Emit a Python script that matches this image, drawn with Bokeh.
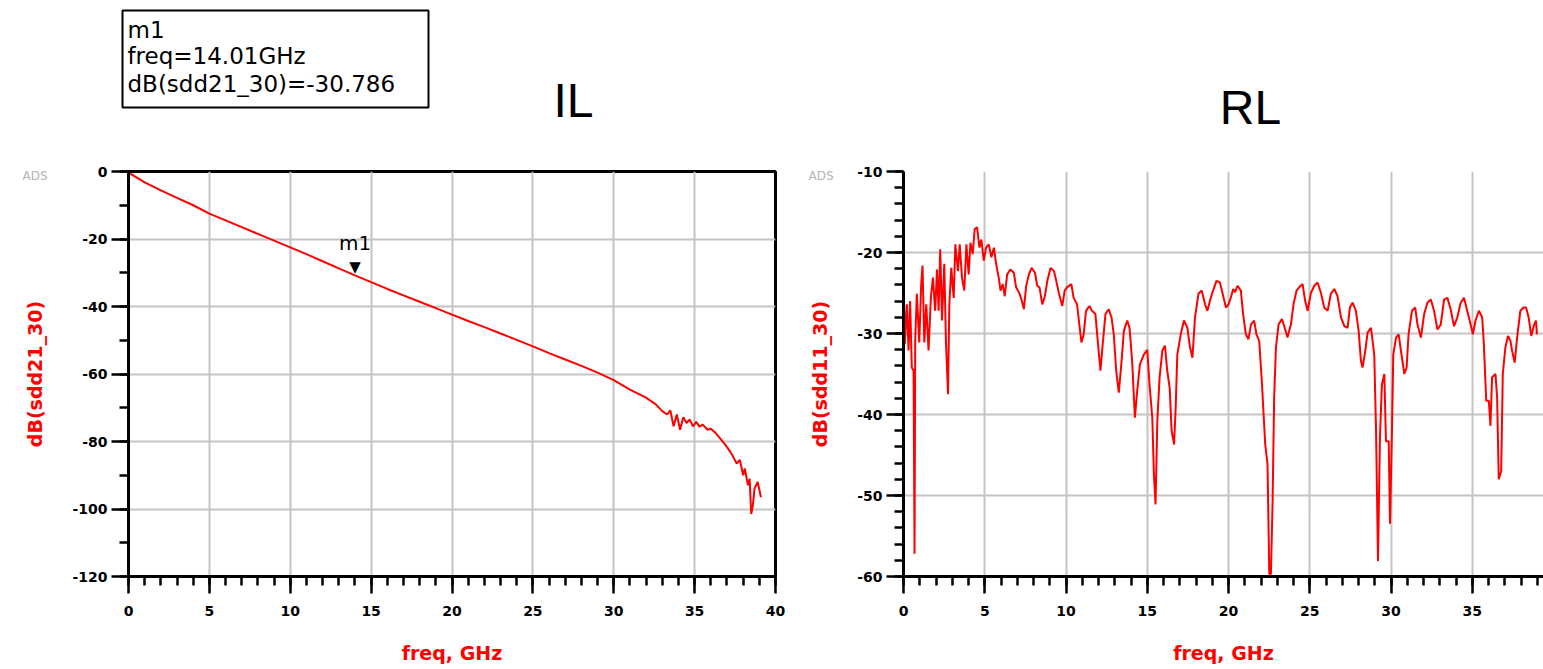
from bokeh.plotting import figure
from bokeh.layouts import row, column
from bokeh.models import Range1d, SingleIntervalTicker, FixedTicker, Grid, Title
from bokeh.embed import file_html
from bokeh.resources import INLINE
from bokeh.core.properties import value

# ---------------- data ----------------
il_freq = [0, 1, 2, 3, 4, 5, 6, 7, 8, 9, 10, 11, 12, 13, 14, 15, 16, 17, 18, 19, 20,
           21, 22, 23, 24, 25, 26, 27, 28, 29, 30, 31, 32, 32.6, 33.0, 33.3, 33.5, 33.7,
           33.9, 34.1, 34.3, 34.5, 34.7, 34.9, 35.1, 35.3, 35.5, 35.8, 36.0, 36.3, 36.6,
           36.9, 37.2, 37.4, 37.6, 37.8, 38.0, 38.1, 38.3, 38.4, 38.5, 38.6, 38.7, 38.9, 39.1]
il_db = [-0.3, -3.2, -5.6, -7.8, -10.0, -12.5, -14.5, -16.5, -18.5, -20.5, -22.5, -24.5,
         -26.6, -28.7, -30.8, -32.8, -34.8, -36.7, -38.6, -40.5, -42.4, -44.3, -46.1, -48.0,
         -49.9, -51.8, -53.8, -55.7, -57.6, -59.6, -61.8, -64.6, -67.0, -69.0, -71.0, -72.0,
         -70.8, -75.5, -72.0, -76.5, -72.8, -74.5, -73.5, -75.5, -74.2, -75.6, -75.0, -76.5,
         -76.2, -77.5, -79.2, -81.0, -83.0, -84.7, -86.5, -85.5, -90.0, -88.0, -93.0, -91.0,
         -101.5, -99.0, -94.0, -92.0, -96.5]

rl_freq = [0.00, 0.08, 0.21, 0.31, 0.41, 0.51, 0.62, 0.68, 0.72, 0.82, 0.97, 1.09, 1.17, 1.28,
           1.40, 1.54, 1.69, 1.81, 1.95, 2.06, 2.16, 2.26, 2.37, 2.51, 2.61, 2.74, 2.82, 2.94,
           3.09, 3.19, 3.35, 3.46, 3.60, 3.74, 3.87, 4.01, 4.12, 4.26, 4.38, 4.53, 4.67, 4.79,
           4.94, 5.08, 5.25, 5.41, 5.56, 5.70, 5.86, 5.97, 6.11, 6.23, 6.38, 6.58, 6.79, 6.93,
           7.10, 7.26, 7.41, 7.55, 7.72, 7.88, 8.09, 8.23, 8.37, 8.54, 8.70, 8.85, 9.05, 9.26,
           9.40, 9.57, 9.77, 9.92, 10.06, 10.33, 10.47, 10.68, 10.82, 10.95, 11.09, 11.23,
           11.44, 11.60, 11.81, 11.98, 12.12, 12.26, 12.43, 12.63, 12.80, 12.94, 13.09, 13.25,
           13.42, 13.56, 13.77, 13.91, 14.07, 14.24, 14.38, 14.55, 14.79, 15.00, 15.14, 15.31,
           15.41, 15.51, 15.62, 15.76, 15.93, 16.09, 16.23, 16.38, 16.50, 16.65, 16.75, 16.85,
           17.06, 17.26, 17.47, 17.63, 17.78, 17.94, 18.15, 18.35, 18.56, 18.70, 18.91, 19.05,
           19.26, 19.47, 19.63, 19.84, 20.00, 20.14, 20.29, 20.41, 20.55, 20.76, 20.90, 21.07,
           21.23, 21.38, 21.58, 21.72, 21.89, 22.05, 22.26, 22.40, 22.51, 22.61, 22.71, 22.81,
           22.92, 23.08, 23.29, 23.49, 23.63, 23.84, 24.00, 24.19, 24.35, 24.56, 24.72, 24.87,
           25.07, 25.28, 25.48, 25.69, 25.89, 26.10, 26.30, 26.51, 26.71, 26.92, 27.13, 27.33,
           27.47, 27.64, 27.84, 28.01, 28.15, 28.25, 28.42, 28.56, 28.77, 28.97, 29.08, 29.20,
           29.32, 29.44, 29.59, 29.69, 29.86, 29.94, 30.06, 30.14, 30.31, 30.47, 30.61, 30.82,
           30.96, 31.08, 31.29, 31.49, 31.63, 31.84, 32.04, 32.24, 32.45, 32.65, 32.86, 33.06,
           33.27, 33.47, 33.67, 33.88, 34.08, 34.29, 34.49, 34.69, 34.90, 35.04, 35.20, 35.41,
           35.61, 35.71, 35.86, 36.02, 36.12, 36.22, 36.43, 36.53, 36.63, 36.78, 36.88, 37.04,
           37.20, 37.35, 37.45, 37.61, 37.76, 37.96, 38.16, 38.31, 38.47, 38.63, 38.78, 38.92,
           38.98]
rl_db = [-21.6, -31.3, -26.4, -32.1, -26.0, -34.2, -34.6, -57.2, -30.9, -25.1, -31.1, -23.9,
         -21.6, -31.1, -26.4, -32.1, -25.4, -23.1, -27.2, -22.1, -27.2, -19.6, -28.4, -21.4,
         -30.9, -37.5, -26.4, -21.9, -25.6, -19.0, -22.3, -19.0, -23.1, -24.7, -19.0, -22.7,
         -18.8, -20.2, -17.1, -16.9, -19.4, -18.4, -21.0, -19.4, -19.0, -20.6, -19.4, -21.4,
         -23.1, -24.7, -23.9, -25.4, -22.7, -22.1, -22.5, -24.3, -24.9, -25.8, -27.0, -24.1,
         -22.7, -21.9, -22.5, -24.1, -24.3, -26.4, -25.4, -23.5, -21.9, -22.3, -23.5, -25.1,
         -26.6, -24.7, -24.3, -23.9, -25.6, -26.4, -28.9, -31.1, -30.1, -27.2, -26.6, -27.2,
         -27.6, -31.5, -34.6, -31.3, -27.6, -27.0, -28.0, -30.1, -34.6, -37.3, -33.4, -29.7,
         -28.4, -29.3, -33.4, -40.4, -37.1, -33.8, -32.6, -32.0, -36.3, -40.4, -47.4, -51.1,
         -40.8, -35.4, -32.1, -31.5, -34.6, -36.7, -42.0, -43.7, -39.1, -32.6, -30.1, -28.4,
         -29.3, -31.7, -33.0, -28.0, -25.1, -24.7, -26.4, -27.2, -25.6, -24.7, -23.5, -23.7,
         -25.0, -26.8, -26.4, -25.6, -24.5, -24.9, -24.1, -24.7, -27.6, -30.1, -30.7, -28.9,
         -28.4, -30.1, -30.9, -35.9, -43.7, -46.1, -59.7, -59.7, -51.1, -37.9, -31.7, -28.9,
         -28.2, -29.5, -30.5, -28.9, -26.4, -24.7, -24.3, -23.9, -26.0, -27.2, -25.0, -24.1,
         -23.7, -25.0, -26.8, -27.2, -25.1, -24.5, -25.4, -28.0, -29.1, -29.3, -26.8, -26.2,
         -27.2, -29.7, -33.4, -34.2, -32.1, -29.9, -29.3, -32.6, -42.0, -58.1, -42.8, -36.3,
         -35.0, -43.3, -43.3, -53.5, -42.0, -32.6, -30.5, -30.1, -32.1, -35.0, -34.2, -30.1,
         -27.2, -26.8, -28.9, -30.5, -27.6, -26.2, -25.8, -27.2, -29.5, -28.9, -25.8, -25.6,
         -27.0, -29.1, -28.0, -26.2, -25.6, -27.2, -28.9, -30.1, -28.4, -27.2, -28.0, -31.1,
         -38.3, -38.3, -41.4, -35.4, -35.0, -37.9, -48.0, -47.0, -35.0, -31.7, -30.3, -30.9,
         -32.1, -33.6, -30.5, -27.2, -26.8, -26.8, -28.0, -30.3, -29.1, -28.4, -30.1]

m1_freq = [14.01]
m1_db = [-30.786]
m1_name = ["m1"]

il_y_ticks = [0, -20, -40, -60, -80, -100, -120]
il_y_labels = ["0", "-20", "-40", "-60", "-80", "-100", "-120"]
rl_y_ticks = [-10, -20, -30, -40, -50, -60]
rl_y_labels = ["-10", "-20", "-30", "-40", "-50", "-60"]

il_title = "IL"
rl_title = "RL"
il_ylabel = "dB(sdd21_30)"
rl_ylabel = "dB(sdd11_30)"
xlabel = "freq, GHz"
watermark = "ADS"
marker_lines = [m1_name[0], f"freq={m1_freq[0]}GHz", f"dB(sdd21_30)={m1_db[0]}"]

RED = "#ff0000"
GRID = "#c4c4c4"
STRIP_H = 136


def style(p, ylabel, y_interval, y_minor, yt, yl):
    p.background_fill_color = "white"
    p.border_fill_color = "white"
    p.xaxis.ticker = SingleIntervalTicker(interval=5, num_minor_ticks=5)
    p.yaxis.ticker = SingleIntervalTicker(interval=y_interval, num_minor_ticks=y_minor)
    p.yaxis.major_label_overrides = dict(zip(yt, yl))
    for ax in (p.xaxis[0], p.yaxis[0]):
        ax.axis_line_color = "black"
        ax.axis_line_width = 3
        ax.major_tick_line_color = "black"
        ax.major_tick_line_width = 2.5
        ax.minor_tick_line_color = "black"
        ax.minor_tick_line_width = 2.5
        ax.major_tick_in = 0
        ax.minor_tick_in = 0
        ax.major_tick_out = 17
        ax.minor_tick_out = 9
        ax.major_label_text_font = "DejaVu Sans"
        ax.major_label_text_font_style = "bold"
        ax.major_label_text_font_size = "14px"
        ax.major_label_text_color = "black"
        ax.axis_label_text_font = "DejaVu Sans"
        ax.axis_label_text_font_style = "bold"
        ax.axis_label_text_font_size = "19px"
        ax.axis_label_text_color = RED
    p.xaxis.major_label_standoff = 12
    p.yaxis.major_label_standoff = 4
    p.xaxis.axis_label = xlabel
    p.yaxis.axis_label = ylabel
    p.xaxis.axis_label_standoff = 23
    p.yaxis.axis_label_standoff = 23
    p.grid.grid_line_color = GRID
    p.grid.grid_line_width = 2


def add_watermark(p, offset):
    t = Title(text=watermark, align="left", offset=offset, vertical_align="bottom",
              text_font="DejaVu Sans", text_font_size="12px", text_font_style="normal",
              text_color="#b4b4b4")
    try:
        t.standoff = -23
    except Exception:
        pass
    p.add_layout(t, "above")


# ---------------- top strip: titles + marker readout ----------------
p0 = figure(width=1543, height=STRIP_H, output_backend="svg", toolbar_location=None,
            x_range=Range1d(0, 1543), y_range=Range1d(STRIP_H, 0),
            x_axis_type=None, y_axis_type=None, min_border=0)
p0.min_border_left = 0
p0.min_border_right = 0
p0.min_border_top = 0
p0.min_border_bottom = 0
p0.outline_line_color = None
p0.grid.visible = False
p0.text(x=[573, 1250], y=[100, 107], text=[il_title, rl_title], text_align="center",
        text_baseline="alphabetic", text_font=value("Liberation Sans"),
        text_font_size="48px", text_color="black")
p0.quad(left=[122], right=[428], top=[10], bottom=[107], fill_color="white",
        line_color="black", line_width=2)
p0.text(x=[127, 127, 127], y=[29, 55, 83], text=marker_lines, text_align="left",
        text_baseline="alphabetic", text_font=value("DejaVu Sans"),
        text_font_size="23px", text_color="black")

# ---------------- IL ----------------
p1 = figure(width=790, height=669 - STRIP_H, output_backend="svg", toolbar_location=None,
            x_range=Range1d(0, 40), y_range=Range1d(-120, 0))
p1.min_border_left = 128
p1.min_border_right = 15
p1.min_border_top = 168 - STRIP_H
p1.min_border_bottom = 669 - STRIP_H - (168 - STRIP_H) - 409
style(p1, il_ylabel, 20, 2, il_y_ticks, il_y_labels)
p1.outline_line_color = "black"
p1.outline_line_width = 3
p1.outline_line_alpha = 1.0

p1.line(il_freq, il_db, line_color=RED, line_width=2)
p1.text(x=m1_freq, y=m1_db, text=["\u25bc"], text_align="center", text_baseline="bottom",
        text_font=value("DejaVu Sans"), text_font_size="15px", text_color="black", y_offset=1)
p1.text(x=m1_freq, y=m1_db, text=m1_name, text_align="center", text_baseline="bottom",
        text_font=value("DejaVu Sans"), text_font_size="20px", text_color="black", y_offset=-20)
add_watermark(p1, -106)

# ---------------- RL ----------------
p2 = figure(width=753, height=669 - STRIP_H, output_backend="svg", toolbar_location=None,
            x_range=Range1d(0, 640 / 16.25), y_range=Range1d(-60, -10))
p2.min_border_left = 113
p2.min_border_right = 0
p2.min_border_top = 171 - STRIP_H
p2.min_border_bottom = 669 - STRIP_H - (171 - STRIP_H) - 405
style(p2, rl_ylabel, 10, 5, rl_y_ticks, rl_y_labels)
p2.outline_line_color = None
p2.add_layout(Grid(dimension=1, ticker=FixedTicker(ticks=[rl_y_ticks[0]]),
                   grid_line_color="black", grid_line_width=6))

p2.line(rl_freq, rl_db, line_color=RED, line_width=2)
add_watermark(p2, -95)

layout = column(p0, row(p1, p2, spacing=0), spacing=0)
open("out.html", "w").write(file_html(layout, INLINE))
